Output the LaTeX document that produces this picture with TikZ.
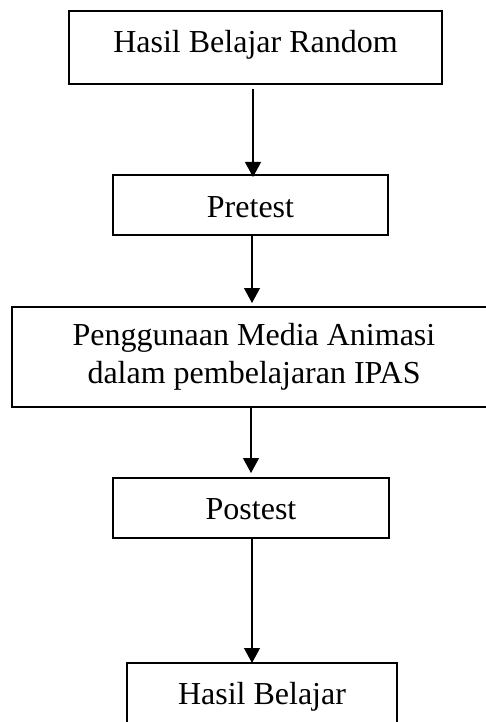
\documentclass[tikz,border=0pt]{standalone}
\usepackage{fontspec}
\setmainfont{Liberation Serif}
\usetikzlibrary{arrows.meta}
\begin{document}
\begin{tikzpicture}[x=1pt,y=-1pt,
  box/.style={draw=black,line width=2.2pt,inner sep=0pt,outer sep=0pt,
    font=\fontsize{32}{38.4}\selectfont},
  arr/.style={draw=black,line width=1.1pt,-{Triangle[width=16pt,length=15pt]}}]
\useasboundingbox (0,0) rectangle (486,722);
\node[box,minimum width=373pt,minimum height=73pt,text height=42pt,text depth=31pt]
  (b1) at (255.5,47.5) {Hasil Belajar Random};
\node[box,minimum width=275pt,minimum height=60pt,text height=42pt,text depth=18pt]
  (b2) at (250.5,205) {Pretest};
\node[box,minimum width=484pt,minimum height=100pt,align=center]
  (b3) at (254,357) {Penggunaan Media Animasi\\dalam pembelajaran IPAS};
\node[box,minimum width=276pt,minimum height=60pt,text height=41pt,text depth=19pt]
  (b4) at (251,508) {Postest};
\node[box,minimum width=270pt,minimum height=97pt,text height=41pt,text depth=56pt]
  (b5) at (262,711.5) {Hasil Belajar};
\draw[arr] ([xshift=-2.5pt,yshift=-5pt]b1.south) -- ([xshift=2.5pt,yshift=-2pt]b2.north);
\draw[arr] ([xshift=1.5pt]b2.south) -- ([xshift=-2pt,yshift=4pt]b3.north);
\draw[arr] ([xshift=-3pt]b3.south) -- ([yshift=5pt]b4.north);
\draw[arr] ([xshift=1pt]b4.south) -- ([xshift=-10pt]b5.north);
\end{tikzpicture}
\end{document}
